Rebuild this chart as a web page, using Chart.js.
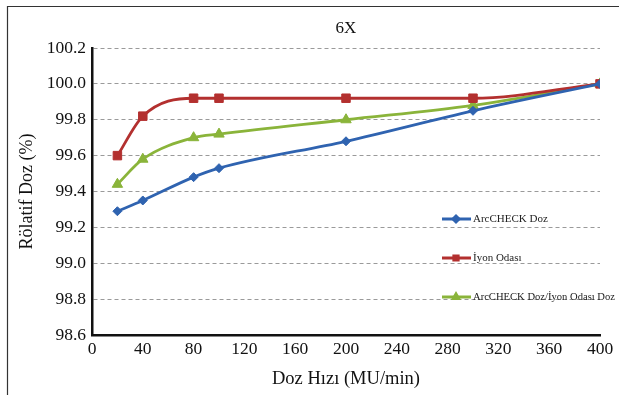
<!DOCTYPE html>
<html>
<head>
<meta charset="utf-8">
<script src="https://cdn.jsdelivr.net/npm/chart.js@4/dist/chart.umd.min.js"></script>
<style>
html,body{margin:0;padding:0;background:#fff;}
#wrap{position:relative;width:619px;height:395px;}
</style>
</head>
<body>
<div id="wrap"><canvas id="c" width="619" height="395"></canvas></div>
<script>
const doseRates = [20, 40, 80, 100, 200, 300, 400];
const arccheckDose = [99.29, 99.35, 99.48, 99.53, 99.68, 99.85, 100.0];
const ionChamber = [99.60, 99.82, 99.92, 99.92, 99.92, 99.92, 100.0];
const ratioDose = [99.44, 99.58, 99.70, 99.72, 99.80, 99.88, 100.0];
const seriesNames = ['ArcCHECK Doz', 'İyon Odası', 'ArcCHECK Doz/İyon Odası Doz'];
const chartTitle = '6X';
const xTitle = 'Doz Hızı (MU/min)';
const yTitle = 'Rölatif Doz (%)';
const xTicks = [0, 40, 80, 120, 160, 200, 240, 280, 320, 360, 400];
const yTicks = [98.6, 98.8, 99.0, 99.2, 99.4, 99.6, 99.8, 100.0, 100.2];

const FONT = '"Liberation Serif", "Times New Roman", serif';
const colors = ['#2F63B0', '#B3302F', '#8AB43A'];
const shapes = ['rectRot', 'rect', 'triangle'];
const radii = [4.5, 6, 6];

function pts(vals){ return doseRates.map((x,i)=>({x:x, y:vals[i]})); }

const framePlugin = {
  id:'frame',
  beforeDraw(chart){
    const ctx = chart.ctx;
    ctx.save();
    ctx.fillStyle = '#fff';
    ctx.fillRect(0,0,chart.width,chart.height);
    ctx.strokeStyle = '#333';
    ctx.lineWidth = 1.2;
    ctx.beginPath();
    ctx.moveTo(7.5, chart.height + 2);
    ctx.lineTo(7.5, 6.5);
    ctx.lineTo(chart.width + 2, 6.5);
    ctx.stroke();
    ctx.fillStyle = '#111';
    ctx.font = '17px ' + FONT;
    ctx.textAlign = 'center';
    ctx.textBaseline = 'middle';
    ctx.fillText(chartTitle, 346, 29);
    ctx.restore();
  },
  afterDraw(chart){
    const ctx = chart.ctx;
    ctx.save();
    const ys = [219, 258, 297];
    chart.data.datasets.forEach((ds, i) => {
      const y = ys[i];
      ctx.strokeStyle = ds.borderColor;
      ctx.lineWidth = 3;
      ctx.beginPath();
      ctx.moveTo(442, y);
      ctx.lineTo(471, y);
      ctx.stroke();
      ctx.fillStyle = ds.borderColor;
      Chart.helpers.drawPoint(ctx, {pointStyle: ds.pointStyle, radius: 3, borderWidth: 1, rotation: 0}, 456, y);
      ctx.fillStyle = '#222';
      ctx.font = '11px ' + FONT;
      ctx.textAlign = 'left';
      ctx.textBaseline = 'middle';
      ctx.fillText(ds.label, 473, y, 142);
    });
    ctx.restore();
  }
};

const datasets = [arccheckDose, ionChamber, ratioDose].map((vals, i) => ({
  label: seriesNames[i],
  data: pts(vals),
  borderColor: colors[i],
  backgroundColor: colors[i],
  pointStyle: shapes[i],
  pointRadius: radii[i],
  pointBorderWidth: 1,
  borderWidth: 2.8,
  tension: 0.4,
  cubicInterpolationMode: 'monotone',
  fill: false
}));

new Chart(document.getElementById('c'), {
  type: 'line',
  data: { datasets },
  plugins: [framePlugin],
  options: {
    responsive: false,
    animation: false,
    devicePixelRatio: 1,
    layout: { padding: { left: 0, right: 19, top: 48, bottom: 0 } },
    plugins: { legend: { display: false }, title: { display: false }, tooltip: { enabled: false } },
    scales: {
      x: {
        type: 'linear',
        min: 0, max: 400,
        afterBuildTicks(scale){ scale.ticks = xTicks.map(v => ({value: v})); },
        afterFit(scale){ scale.height = 60; },
        grid: { display: false, drawTicks: false },
        border: { display: true, color: '#111', width: 2.5 },
        ticks: { color: '#111', font: { family: FONT, size: 17.5 }, padding: 4, maxRotation: 0, autoSkip: false },
        title: { display: true, text: xTitle, color: '#111', font: { family: FONT, size: 18.5 }, padding: { top: 0, bottom: 5 } }
      },
      y: {
        min: 98.6, max: 100.2,
        afterBuildTicks(scale){ scale.ticks = yTicks.map(v => ({value: v})); },
        afterFit(scale){ scale.width = 92; },
        grid: { color: '#9a9a9a', lineWidth: 1, drawTicks: false },
        border: { display: true, color: '#111', width: 2.5, dash: [4, 3] },
        ticks: { color: '#111', font: { family: FONT, size: 17.5 }, padding: 6, callback: v => Number(v).toFixed(1), autoSkip: false },
        title: { display: true, text: yTitle, color: '#111', font: { family: FONT, size: 18 }, padding: { top: 16, bottom: 0 } }
      }
    }
  }
});
</script>
</body>
</html>
